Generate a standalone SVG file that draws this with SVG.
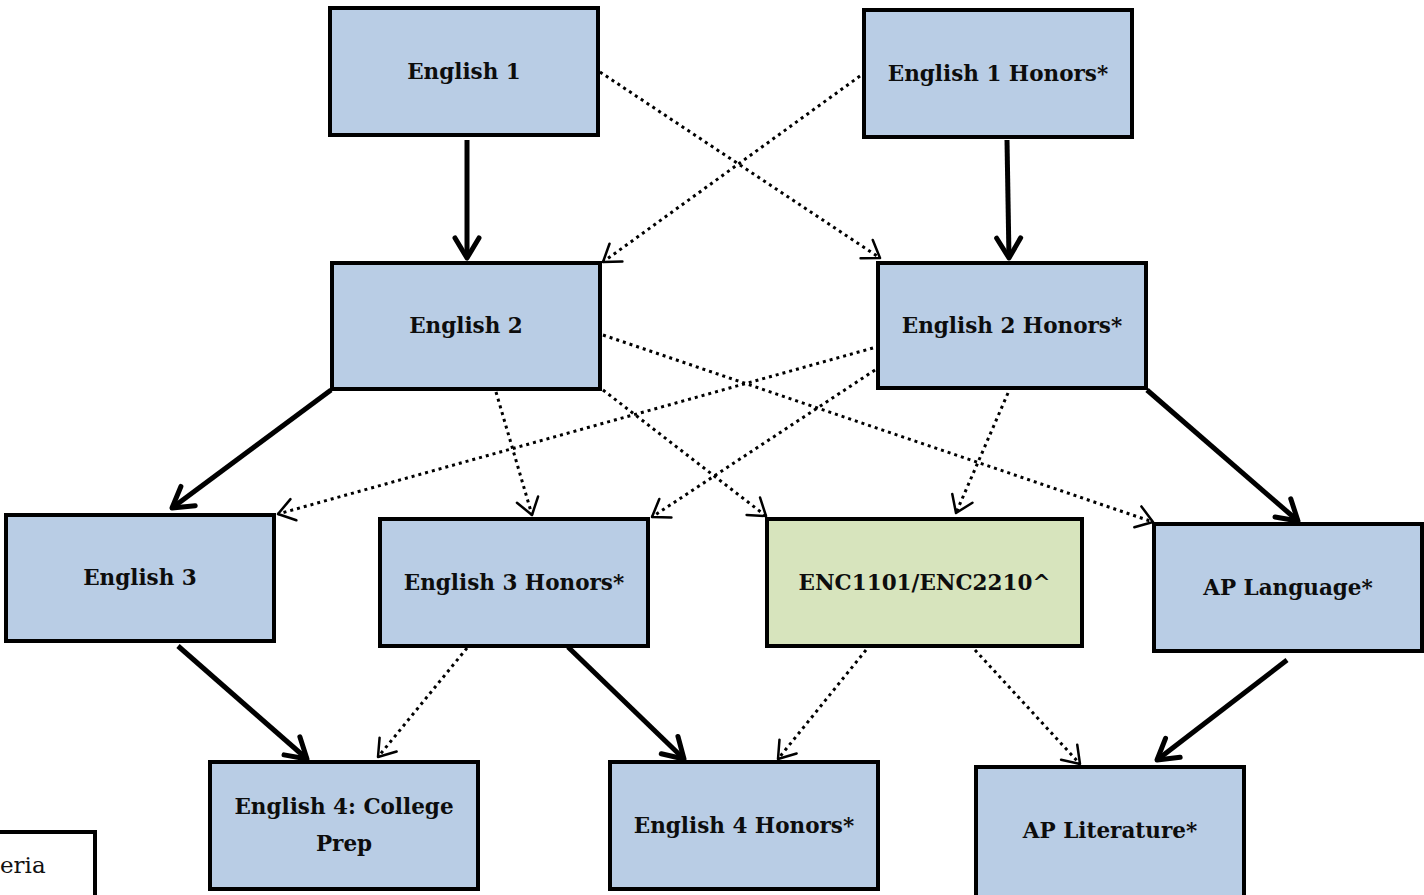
<svg xmlns="http://www.w3.org/2000/svg" width="1424" height="895" viewBox="0 0 1424 895">
<style>
.box{fill:#b9cde5;stroke:#000;stroke-width:4}
.green{fill:#d7e4bd}
.lbl{font-family:"DejaVu Serif","Liberation Serif",serif;font-weight:bold;font-size:21.5px;fill:#0d0d0d;text-anchor:middle}
.solid{stroke:#000;stroke-width:5;fill:none;marker-end:url(#hs)}
.dot{stroke:#000;stroke-width:3;fill:none;stroke-dasharray:3 4;marker-end:url(#hd)}
.note{font-family:"DejaVu Serif","Liberation Serif",serif;font-size:23px;fill:#111}
</style>
<defs>
<marker id="hs" markerUnits="userSpaceOnUse" markerWidth="40" markerHeight="40" viewBox="-30 -20 40 40" refX="0" refY="0" orient="auto" overflow="visible">
<path d="M-20,-12 L0,0 L-20,12" fill="none" stroke="#000" stroke-width="5" stroke-linecap="round" stroke-linejoin="round"/>
</marker>
<marker id="hd" markerUnits="userSpaceOnUse" markerWidth="40" markerHeight="40" viewBox="-30 -20 40 40" refX="0" refY="0" orient="auto" overflow="visible">
<path d="M-16,-11 L0,0 L-16,11" fill="none" stroke="#000" stroke-width="2.5" stroke-linecap="round" stroke-linejoin="round"/>
</marker>
</defs>
<rect width="1424" height="895" fill="#fff"/>
<g id="connectors">
<line class="solid" x1="467" y1="140" x2="467" y2="258"/>
<line class="solid" x1="1007" y1="140" x2="1009" y2="258"/>
<line class="solid" x1="331" y1="390" x2="172" y2="508"/>
<line class="solid" x1="1147" y1="390" x2="1298" y2="521"/>
<line class="solid" x1="178" y1="646" x2="307" y2="759"/>
<line class="solid" x1="568" y1="647" x2="684" y2="759"/>
<line class="solid" x1="1287" y1="660" x2="1157" y2="760"/>
<line class="dot" x1="600" y1="72" x2="880" y2="258"/>
<line class="dot" x1="860" y1="76" x2="603" y2="262"/>
<line class="dot" x1="603" y1="335" x2="1153" y2="522"/>
<line class="dot" x1="873" y1="348" x2="278" y2="514"/>
<line class="dot" x1="496" y1="392" x2="532" y2="515"/>
<line class="dot" x1="603" y1="390" x2="766" y2="516"/>
<line class="dot" x1="875" y1="370" x2="652" y2="517"/>
<line class="dot" x1="1008" y1="393" x2="956" y2="513"/>
<line class="dot" x1="467" y1="648" x2="378" y2="757"/>
<line class="dot" x1="866" y1="650" x2="778" y2="759"/>
<line class="dot" x1="975" y1="650" x2="1080" y2="764"/>
</g>
<g id="english1"><rect class="box" x="330" y="8" width="268" height="127"/><text class="lbl" x="464" y="79">English 1</text></g>
<g id="english1h"><rect class="box" x="864" y="10" width="268" height="127"/><text class="lbl" x="998" y="81">English 1 Honors*</text></g>
<g id="english2"><rect class="box" x="332" y="263" width="268" height="126"/><text class="lbl" x="466" y="333">English 2</text></g>
<g id="english2h"><rect class="box" x="878" y="263" width="268" height="125"/><text class="lbl" x="1012" y="333">English 2 Honors*</text></g>
<g id="english3"><rect class="box" x="6" y="515" width="268" height="126"/><text class="lbl" x="140" y="585">English 3</text></g>
<g id="english3h"><rect class="box" x="380" y="519" width="268" height="127"/><text class="lbl" x="514" y="590">English 3 Honors*</text></g>
<g id="enc"><rect class="box green" x="767" y="519" width="315" height="127"/><text class="lbl" x="924.5" y="590">ENC1101/ENC2210^</text></g>
<g id="aplang"><rect class="box" x="1154" y="524" width="268" height="127"/><text class="lbl" x="1288" y="595">AP Language*</text></g>
<g id="english4cp"><rect class="box" x="210" y="762" width="268" height="127"/><text class="lbl" x="344" y="814">English 4: College</text><text class="lbl" x="344" y="851">Prep</text></g>
<g id="english4h"><rect class="box" x="610" y="762" width="268" height="127"/><text class="lbl" x="744" y="833">English 4 Honors*</text></g>
<g id="aplit"><rect class="box" x="976" y="767" width="268" height="130"/><text class="lbl" x="1110" y="838">AP Literature*</text></g>
<g id="legend"><rect x="-20" y="832" width="115" height="80" fill="#fff" stroke="#000" stroke-width="4"/><text class="note" x="0" y="873">eria</text></g>
</svg>
